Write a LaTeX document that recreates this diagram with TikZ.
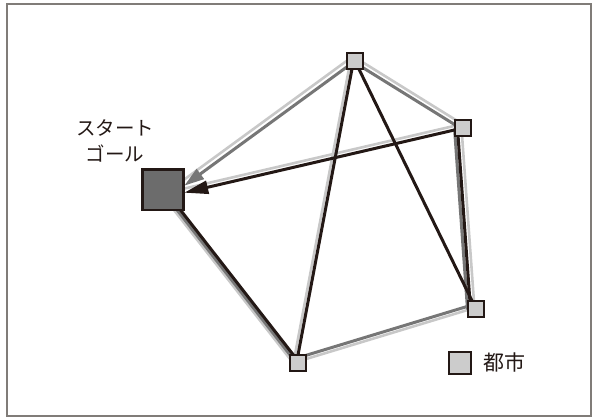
\documentclass[tikz,border=0pt]{standalone}
\usepackage{fontspec}
\newfontfamily\jp{Noto Sans CJK JP}
\usetikzlibrary{calc,arrows.meta}
\definecolor{blk}{RGB}{35,24,21}
\definecolor{midg}{RGB}{118,118,118}
\definecolor{lightg}{RGB}{200,200,200}
\definecolor{cityfill}{RGB}{204,204,204}
\definecolor{startfill}{RGB}{108,108,108}
\definecolor{framec}{RGB}{128,124,120}
\pgfdeclarelayer{bg}
\pgfsetlayers{bg,main}
\tikzset{
  city/.style={draw=blk,line width=2pt,fill=cityfill,minimum size=16pt,inner sep=0pt,outer sep=0pt},
  startbox/.style={draw=blk,line width=2.6pt,fill=startfill,minimum size=40.5pt,inner sep=0pt,outer sep=0pt},
  lg/.style={draw=lightg,line width=2.6pt},
  mg/.style={draw=midg,line width=3pt},
  bk/.style={draw=blk,line width=3pt},
  jtext/.style={text=blk,inner sep=0pt}
}
\begin{document}
\begin{tikzpicture}[x=1pt,y=1pt]
\useasboundingbox (0,0) rectangle (593,418);
\draw[framec,line width=1.5pt] (7,2) rectangle (591,414);
% nodes
\node[startbox] (S) at (163,228.3) {};
\node[city] (A) at (355,357) {};
\node[city] (B) at (463,290) {};
\node[city] (C) at (476,109) {};
\node[city] (D) at (298,55) {};
\node[city,minimum size=22pt] (L) at (460,55.5) {};
\node[jtext,font=\jp\fontsize{21}{25}\selectfont,anchor=west] (Lt) at (483.5,55.5) {都市};
\node[jtext,font=\jp\fontsize{19.5}{26.5}\selectfont,align=center] (lab) at (115,277.3) {スタート\\ゴール};
\coordinate (sa) at ([xshift=1pt,yshift=4pt]S.east);
\coordinate (sb) at ([xshift=1pt,yshift=-3pt]S.east);
\begin{pgfonlayer}{bg}
% light gray
\draw[lg] ($(A)!5pt!-90:(sa)$) -- ($(sa)!5pt!90:(A)$);
\draw[lg] ($(B)!4pt!-90:(sb)$) -- ($(sb)!4pt!90:(B)$);
\draw[lg] ($(A)!3pt!90:(B)$) -- ($(B)!3pt!-90:(A)$);
\draw[lg] ($(B)!1.5pt!-90:(C)$) -- ($(C)!1.5pt!90:(B)$);
\draw[lg] ($(A)!4.5pt!-90:(D)$) -- ($(D)!4.5pt!90:(A)$);
\draw[lg] ($(S)!3.8pt!-90:(D)$) -- ($(D)!3.8pt!90:(S)$);
\draw[lg] ($(D)!1.5pt!90:(C)$) -- ($(C)!1.5pt!-90:(D)$);
% mid gray
\draw[mg] ($(A)!1.5pt!-90:(B)$) -- ($(B)!1.5pt!90:(A)$);
\draw[mg] ($(B)!8.5pt!-90:(C)$) -- ($(C)!8.5pt!90:(B)$);
\draw[mg] ($(S)!1.3pt!-90:(D)$) -- ($(D)!1.3pt!90:(S)$);
\draw[mg] ($(D)!5pt!90:(C)$) -- ($(C)!5pt!-90:(D)$);
\draw[mg,-{Triangle[length=20pt,width=12pt]}] (A) -- (sa);
% black
\draw[bk] ($(B)!5.5pt!-90:(C)$) -- ($(C)!5.5pt!90:(B)$);
\draw[bk] (A) -- (C);
\draw[bk] ($(A)!1.5pt!-90:(D)$) -- ($(D)!1.5pt!90:(A)$);
\draw[bk] ($(S)!1.3pt!90:(D)$) -- ($(D)!1.3pt!-90:(S)$);
\draw[bk,-{Triangle[length=24pt,width=13pt]}] (B) -- (sb);
\end{pgfonlayer}
\end{tikzpicture}
\end{document}
